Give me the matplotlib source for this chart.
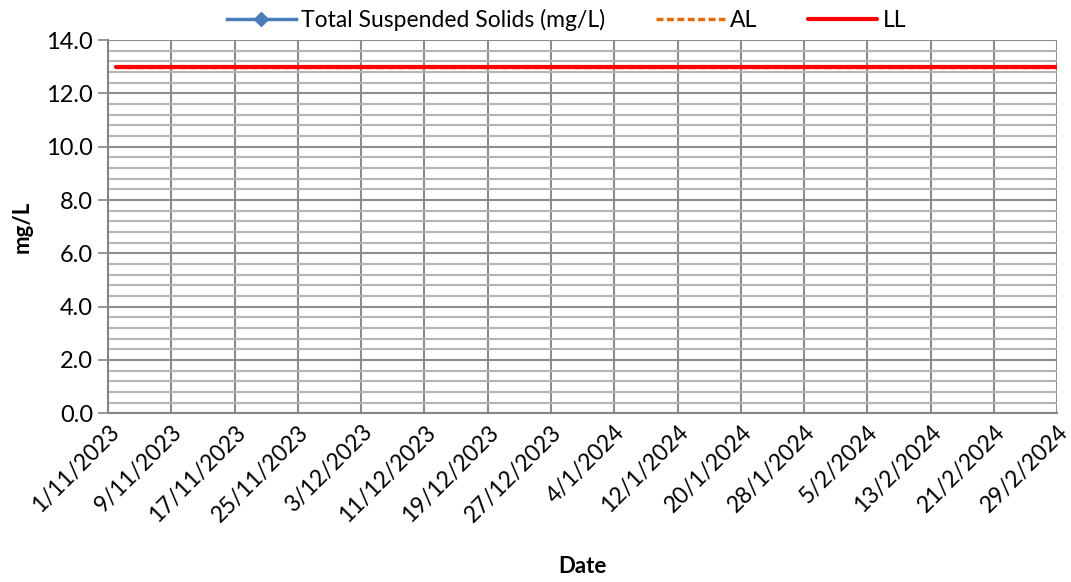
import matplotlib.pyplot as plt
from matplotlib.ticker import MultipleLocator
import datetime as dt

plt.rcParams['font.family'] = ['Lato', 'DejaVu Sans']

# data
start = dt.date(2023, 11, 1)
end = dt.date(2024, 2, 29)
tick_dates = [start + dt.timedelta(days=8 * i) for i in range(16)]
tick_labels = [f"{d.day}/{d.month}/{d.year}" for d in tick_dates]

limit_dates = [dt.date(2023, 11, 2), dt.date(2024, 2, 29)]
tss_dates = []
tss_values = []
al_values = [13.0, 13.0]
ll_values = [13.0, 13.0]

fig, ax = plt.subplots(figsize=(10.71, 5.82), dpi=100)
fig.subplots_adjust(left=0.101, right=0.987, top=0.931, bottom=0.29)

ax.plot(tss_dates, tss_values, color='#4a7ebb', lw=2.5, marker='D', ms=7,
        label='Total Suspended Solids (mg/L)')
ax.plot(limit_dates, al_values, color='#e46c0a', lw=2.5, ls=(0, (2, 1)),
        label='AL', zorder=3)
ax.plot(limit_dates, ll_values, color='#ff0000', lw=3, solid_capstyle='round',
        label='LL', zorder=4)

ax.set_xlim(start, end)
ax.set_ylim(0, 14)
ax.set_xticks(tick_dates)
ax.set_xticklabels(tick_labels, rotation=45, ha='right', rotation_mode='anchor',
                   fontsize=16.5)
ax.yaxis.set_major_locator(MultipleLocator(2))
ax.yaxis.set_minor_locator(MultipleLocator(0.4))
ax.yaxis.set_major_formatter(plt.FormatStrFormatter('%.1f'))
ax.tick_params(axis='y', labelsize=17, length=7, color='#868686', width=1.2, pad=4)
ax.tick_params(axis='y', which='minor', length=0)
ax.tick_params(axis='x', length=0, pad=6)

ax.grid(axis='y', which='major', color='#8c8c8c', lw=1.5)
ax.grid(axis='y', which='minor', color='#b5b5b5', lw=1.5)
ax.grid(axis='x', which='major', color='#8c8c8c', lw=1.5)
ax.set_axisbelow(True)

for side in ['top', 'right']:
    ax.spines[side].set_visible(False)
for side in ['left', 'bottom']:
    ax.spines[side].set_color('#868686')
    ax.spines[side].set_linewidth(1.5)

ax.set_ylabel('mg/L', fontsize=16, fontweight='bold', labelpad=10)
ax.set_xlabel('Date', fontsize=16, fontweight='bold', labelpad=22)

ax.legend(loc='lower center', bbox_to_anchor=(0.483, 1.0), ncol=3, frameon=False,
          fontsize=16.5, handlelength=3.0, columnspacing=2.2, handletextpad=0.25,
          borderaxespad=0)

fig.savefig('out.png', dpi=100)
